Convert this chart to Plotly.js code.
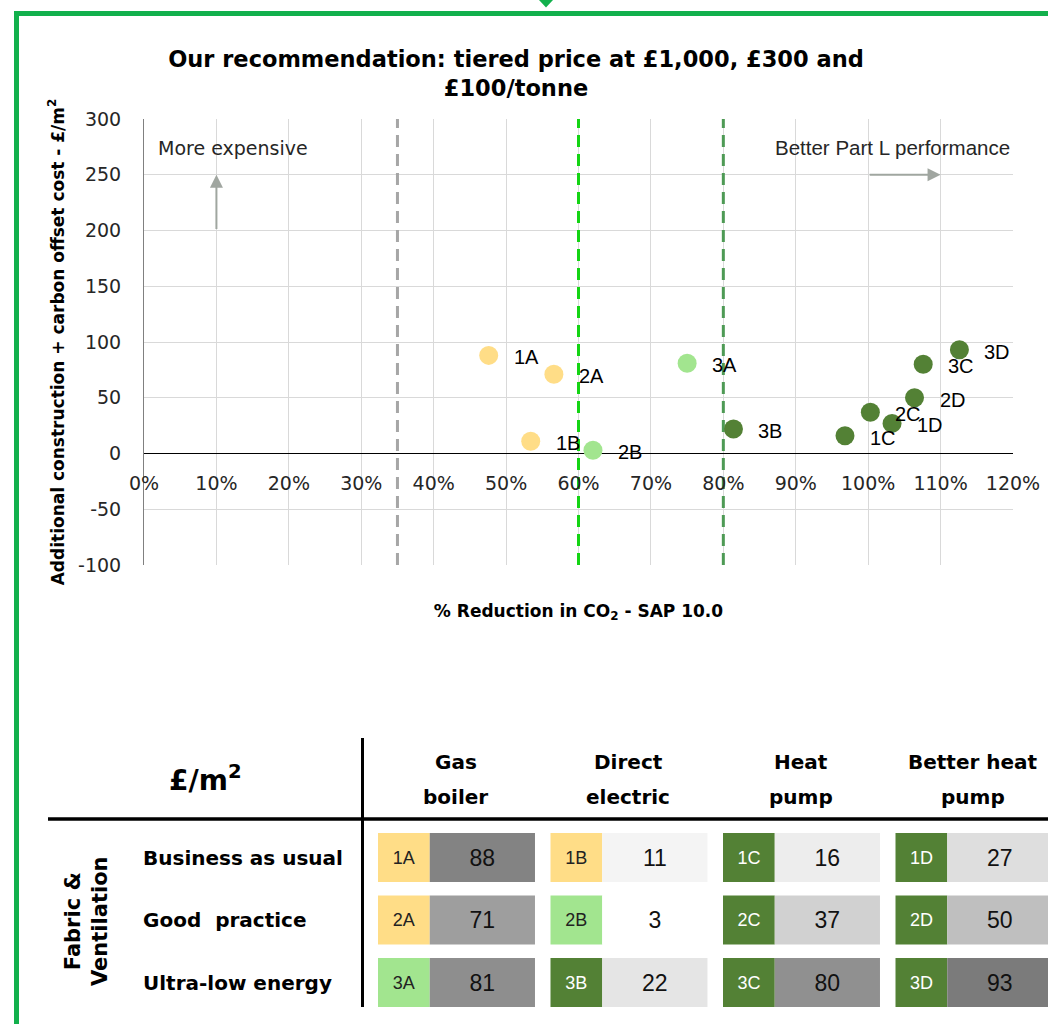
<!DOCTYPE html>
<html>
<head>
<meta charset="utf-8">
<script src="https://cdn.plot.ly/plotly-3.0.1.min.js"></script>
<style>html,body{margin:0;padding:0;background:#fff;}#chart{width:1048px;height:1024px;}</style>
</head>
<body>
<div id="chart"></div>
<script>
// ---------------- DATA ----------------
const optionCodes   = ['1A','1B','1C','1D','2A','2B','2C','2D','3A','3B','3C','3D'];
const co2Reduction  = [47.6, 53.4, 96.8, 103.3, 56.6, 62.0, 100.3, 106.4, 75.0, 81.4, 107.6, 112.6]; // %
const costPerM2     = [88, 11, 16, 27, 71, 3, 37, 50, 81, 22, 80, 93]; // £/m2
const fabricLevels  = ['Business as usual', 'Good  practice', 'Ultra-low energy'];
const heatingSystems = ['Gas boiler', 'Direct electric', 'Heat pump', 'Better heat pump'];
const partLLine     = [35];          // % reduction reference line
const priceThresholds = [60, 80];    // % reduction tier boundaries (£1,000 | £300 | £100 per tonne)
const xTickValues   = [0,10,20,30,40,50,60,70,80,90,100,110,120];
const yTickValues   = [-100,-50,0,50,100,150,200,250,300];

// ---------------- STYLE ----------------
const W = 1048, H = 1024;
const tierColors = ['#FFDD87', '#A2E58F', '#538135'];
const tierTextColors = ['#222222', '#222222', '#ffffff'];
const thresholdColors = ['#14D414', '#4E9A55'];
const frameGreen = '#12B04C';
const px = v => v / W;
const py = v => 1 - v / H;

function tierOf(x) {
  let t = 0;
  priceThresholds.forEach(th => { if (x >= th) t++; });
  return t;
}
const tiers = co2Reduction.map(tierOf);
const rowIdx = optionCodes.map(c => parseInt(c[0], 10) - 1);
const colIdx = optionCodes.map(c => 'ABCD'.indexOf(c[1]));

// main plot geometry
const yDom = [py(565), py(119)];
const xDom = [px(144), px(1013)];
const yRange = [-100, 300];
const zeroPos = yDom[0] + (0 - yRange[0]) / (yRange[1] - yRange[0]) * (yDom[1] - yDom[0]);

// table geometry (in column-group units)
const codeW = 0.30, valW = 0.61, groupPitchPx = 172.5, tableLeftPx = 378;

const traces = [];

// scatter points
traces.push({
  type: 'scatter', mode: 'markers', xaxis: 'x', yaxis: 'y',
  x: co2Reduction, y: costPerM2, text: optionCodes,
  marker: { size: 19, color: tiers.map(t => tierColors[t]), line: { width: 0 } },
  hoverinfo: 'text', showlegend: false
});

// table: code cells
traces.push({
  type: 'bar', orientation: 'h', xaxis: 'x3', yaxis: 'y3',
  y: rowIdx, base: colIdx, x: optionCodes.map(() => codeW), width: 0.784,
  marker: { color: tiers.map(t => tierColors[t]), line: { width: 0 } },
  text: optionCodes, textposition: 'inside', insidetextanchor: 'middle', textangle: 0,
  insidetextfont: { family: 'Liberation Sans', size: 18, color: tiers.map(t => tierTextColors[t]) },
  hoverinfo: 'skip', showlegend: false
});

// table: value cells
const cMin = Math.min(...costPerM2), cMax = Math.max(...costPerM2);
traces.push({
  type: 'bar', orientation: 'h', xaxis: 'x3', yaxis: 'y3',
  y: rowIdx, base: colIdx.map(c => c + codeW), x: optionCodes.map(() => valW), width: 0.784,
  marker: { color: costPerM2, cmin: cMin, cmax: cMax, showscale: false,
            colorscale: [[0, '#ffffff'], [0.522, '#bfbfbf'], [1, '#7b7b7b']], line: { width: 0 } },
  text: costPerM2.map(String), textposition: 'inside', insidetextanchor: 'middle', textangle: 0,
  insidetextfont: { family: 'Liberation Sans', size: 23, color: '#111111' },
  hoverinfo: 'skip', showlegend: false
});

// ---------------- SHAPES ----------------
const shapes = [];
// frame
shapes.push({ type: 'line', xref: 'paper', yref: 'paper', x0: px(14), x1: 1, y0: py(13.5), y1: py(13.5), line: { color: frameGreen, width: 5 } });
shapes.push({ type: 'line', xref: 'paper', yref: 'paper', x0: px(16.5), x1: px(16.5), y0: py(11), y1: 0, line: { color: frameGreen, width: 5 } });
shapes.push({ type: 'path', xref: 'paper', yref: 'paper',
  path: `M ${px(539)} ${py(0)} L ${px(553)} ${py(0)} L ${px(546)} ${py(7.5)} Z`,
  fillcolor: frameGreen, line: { width: 0 } });
// reference lines
partLLine.forEach(v => shapes.push({ type: 'line', xref: 'x', yref: 'y', x0: v, x1: v, y0: yRange[0], y1: yRange[1], layer: 'between',
  line: { color: '#A6A6A6', width: 3, dash: '12px,7px' } }));
priceThresholds.forEach((v, i) => shapes.push({ type: 'line', xref: 'x', yref: 'y', x0: v, x1: v, y0: yRange[0], y1: yRange[1], layer: 'between',
  line: { color: thresholdColors[i], width: 3, dash: '12px,7px' } }));
// table rules
shapes.push({ type: 'line', xref: 'paper', yref: 'paper', x0: px(48), x1: 1, y0: py(819), y1: py(819), line: { color: '#000', width: 3.5 } });
shapes.push({ type: 'line', xref: 'paper', yref: 'paper', x0: px(362.5), x1: px(362.5), y0: py(738), y1: py(1007), line: { color: '#000', width: 3 } });

// ---------------- ANNOTATIONS ----------------
const ann = [];
optionCodes.forEach((c, i) => ann.push({
  xref: 'x', yref: 'y', x: co2Reduction[i], y: costPerM2[i], text: c, showarrow: false,
  xanchor: 'left', yanchor: 'middle', xshift: 23, yshift: -2,
  font: { family: 'Liberation Sans', size: 20, color: '#000' }
}));
ann.push({ xref: 'x', yref: 'y', x: 1.6, y: 274, text: 'More expensive', showarrow: false, xanchor: 'left', yanchor: 'middle',
  font: { family: 'DejaVu Sans', size: 19, color: '#262626' } });
ann.push({ xref: 'x', yref: 'y', x: 119.8, y: 274, text: 'Better Part L performance', showarrow: false, xanchor: 'right', yanchor: 'middle',
  font: { family: 'Liberation Sans', size: 20.5, color: '#262626' } });
ann.push({ xref: 'x', yref: 'y', x: 10, y: 250, axref: 'x', ayref: 'y', ax: 10, ay: 200, text: '', showarrow: true,
  arrowhead: 2, arrowsize: 1.3, arrowwidth: 2, arrowcolor: '#A0A6A0' });
ann.push({ xref: 'x', yref: 'y', x: 110, y: 250, axref: 'x', ayref: 'y', ax: 100, ay: 250, text: '', showarrow: true,
  arrowhead: 2, arrowsize: 1.3, arrowwidth: 2, arrowcolor: '#A0A6A0' });

// table headers
heatingSystems.forEach((h, g) => {
  const k = h.lastIndexOf(' ');
  const lines = [h.slice(0, k), h.slice(k + 1)];
  lines.forEach((l, j) => ann.push({
    xref: 'x3', yref: 'paper', x: g + 0.45, y: py(j === 0 ? 762 : 797), text: l, showarrow: false,
    xanchor: 'center', yanchor: 'middle', font: { family: 'DejaVu Sans', size: 20, weight: 700, color: '#000' }
  }));
});
ann.push({ xref: 'paper', yref: 'paper', x: px(205), y: py(778), text: '£/m<sup>2</sup>', showarrow: false,
  xanchor: 'center', yanchor: 'middle', font: { family: 'DejaVu Sans', size: 28, weight: 700, color: '#000' } });
fabricLevels.forEach((f, r) => ann.push({
  xref: 'paper', yref: 'y3', x: px(141), y: r, text: f, showarrow: false, xanchor: 'left', yanchor: 'middle',
  font: { family: 'DejaVu Sans', size: 20, weight: 700, color: '#000' }
}));
ann.push({ xref: 'paper', yref: 'paper', x: px(86), y: py(921), text: 'Fabric &<br>Ventilation', textangle: -90, showarrow: false,
  xanchor: 'center', yanchor: 'middle', font: { family: 'DejaVu Sans', size: 21, weight: 700, color: '#000' } });

// ---------------- LAYOUT ----------------
const layout = {
  width: W, height: H,
  margin: { l: 0, r: 0, t: 0, b: 0, pad: 0 },
  paper_bgcolor: '#ffffff', plot_bgcolor: '#ffffff',
  showlegend: false,
  title: {
    text: 'Our recommendation: tiered price at £1,000, £300 and<br>£100/tonne',
    x: px(516), xanchor: 'center', xref: 'paper', y: py(67), yanchor: 'middle', yref: 'container',
    font: { family: 'DejaVu Sans', size: 22.5, weight: 700, color: '#000' }
  },
  xaxis: {
    domain: xDom, range: [0, 120], anchor: 'free', position: zeroPos,
    tickvals: xTickValues, ticktext: xTickValues.map(v => v + '%'),
    ticks: 'outside', ticklen: 13, tickcolor: 'rgba(0,0,0,0)',
    tickfont: { family: 'DejaVu Sans', size: 19, color: '#262626' },
    showgrid: true, gridcolor: '#D9D9D9', gridwidth: 1, zeroline: false, showline: false,
    title: { text: '% Reduction in CO<sub>2</sub> - SAP 10.0', standoff: 111,
             font: { family: 'DejaVu Sans', size: 17, weight: 700, color: '#000' } },
    fixedrange: true
  },
  yaxis: {
    domain: yDom, range: yRange, anchor: 'x',
    tickvals: yTickValues, ticktext: yTickValues.map(String),
    ticks: 'outside', ticklen: 18, tickcolor: 'rgba(0,0,0,0)',
    tickfont: { family: 'DejaVu Sans', size: 19, color: '#262626' },
    showgrid: true, gridcolor: '#D9D9D9', gridwidth: 1,
    zeroline: true, zerolinecolor: '#000', zerolinewidth: 1.5,
    showline: true, linecolor: '#808080', linewidth: 1,
    title: { text: 'Additional construction + carbon offset cost - £/m<sup>2</sup>', standoff: 9,
             font: { family: 'DejaVu Sans', size: 17, weight: 700, color: '#000' } },
    fixedrange: true
  },
  xaxis3: { domain: [px(tableLeftPx), 1], range: [0, (W - tableLeftPx) / groupPitchPx], anchor: 'y3', visible: false, fixedrange: true },
  yaxis3: { domain: [py(1013.75), py(826.25)], range: [2.5, -0.5], anchor: 'x3', visible: false, fixedrange: true },
  barmode: 'overlay',
  shapes: shapes,
  annotations: ann
};

Plotly.newPlot('chart', traces, layout, { displayModeBar: false, staticPlot: true });
</script>
</body>
</html>
